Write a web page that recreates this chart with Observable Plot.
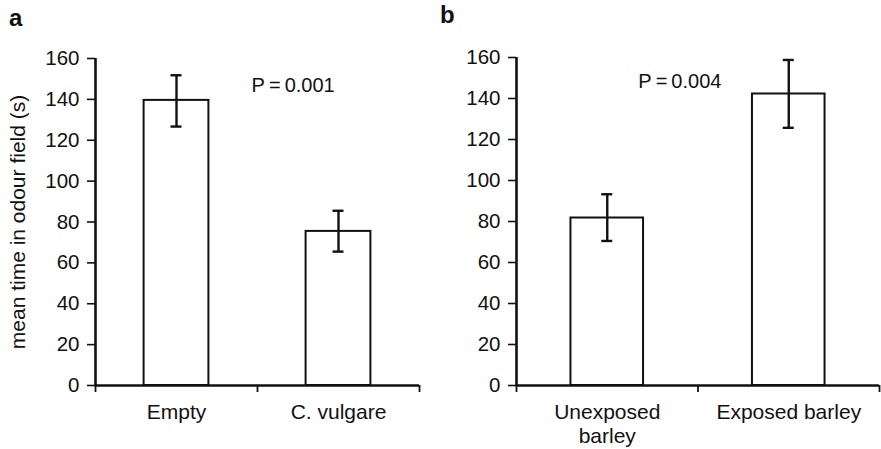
<!DOCTYPE html>
<html>
<head>
<meta charset="utf-8">
<script src="https://cdn.jsdelivr.net/npm/d3@7"></script>
<script src="https://cdn.jsdelivr.net/npm/@observablehq/plot@0.6"></script>
<style>
  html, body { margin: 0; padding: 0; background: #fff; }
  #wrap { position: relative; width: 881px; height: 449px; overflow: hidden; font-family: "Liberation Sans", Arial, sans-serif; }
  .panel { position: absolute; top: 0; }
  .letter { position: absolute; font: bold 24px "Liberation Sans", Arial, sans-serif; color: #111; }
</style>
</head>
<body>
<div id="wrap">
  <div class="panel" id="pa" style="left:0px"></div>
  <div class="panel" id="pb" style="left:440px"></div>
  <div class="letter" style="left:9px; top:4px">a</div>
  <div class="letter" style="left:440px; top:1px">b</div>
</div>
<script>
// Panel a data
const catsA = ["Empty", "C. vulgare"];
const meansA = [139.5, 75.4];
const lowA = [126.7, 65.5];
const highA = [151.8, 85.5];
const pTextA = ["P\u2009=\u20090.001"];
const pPosA = [{x: 1.22, y: 146.5}];

// Panel b data
const catsB = ["Unexposed\nbarley", "Exposed barley"];
const meansB = [81.7, 142.2];
const lowB = [70.5, 125.7];
const highB = [93.3, 158.8];
const pTextB = ["P\u2009=\u20090.004"];
const pPosB = [{x: 0.90, y: 148.4}];

const yTicks = [0, 20, 40, 60, 80, 100, 120, 140, 160];
const yLabel = "mean time in odour field (s)";

function panel({cats, means, low, high, pText, pPos, width, marginLeft, marginRight, marginTop, ylabel}) {
  const data = cats.map((c, i) => ({cat: c, i, mean: means[i], lo: low[i], hi: high[i]}));
  const n = cats.length;
  const ann = pText.map((t, k) => ({t, x: pPos[k].x, y: pPos[k].y}));
  const marks = [
    Plot.rectY(data, {x1: d => d.i + 0.3, x2: d => d.i + 0.7, y1: 0, y2: "mean", fill: "white", stroke: "#111", strokeWidth: 2}),
    Plot.ruleX(data, {x: d => d.i + 0.5, y1: "lo", y2: "hi", stroke: "#111", strokeWidth: 2.4}),
    Plot.ruleY(data, {y: "hi", x1: d => d.i + 0.5, x2: d => d.i + 0.5, insetLeft: -5.5, insetRight: -5.5, stroke: "#111", strokeWidth: 2.4}),
    Plot.ruleY(data, {y: "lo", x1: d => d.i + 0.5, x2: d => d.i + 0.5, insetLeft: -5.5, insetRight: -5.5, stroke: "#111", strokeWidth: 2.4}),
    Plot.axisY({ticks: yTicks, tickSize: 8, tickPadding: 8, label: null, fontSize: 20.5, strokeWidth: 1.6, stroke: "#111", fill: "#111"}),
    Plot.axisX({ticks: d3.range(n + 1), tickFormat: () => "", tickSize: 7, label: null, strokeWidth: 1.8, stroke: "#111"}),
    Plot.ruleX([0], {stroke: "#111", strokeWidth: 2.6}),
    Plot.ruleY([0], {stroke: "#111", strokeWidth: 2.6}),
    Plot.text(data, {x: d => d.i + 0.5, y: 0, text: "cat", dy: 17, lineAnchor: "top", lineHeight: 1.12, fontSize: 21, fill: "#111"}),
    Plot.text(ann, {x: "x", y: "y", text: "t", fontSize: 20, fill: "#111"})
  ];
  if (ylabel) {
    marks.push(Plot.text([ylabel], {frameAnchor: "left", rotate: -90, dx: -77, textAnchor: "middle", lineAnchor: "middle", fontSize: 21, fill: "#111", text: d => d}));
  }
  return Plot.plot({
    width, height: 449,
    marginLeft, marginRight, marginTop, marginBottom: 64,
    style: {fontFamily: "'Liberation Sans', Arial, sans-serif", fontSize: "20px", background: "transparent", color: "#111"},
    x: {domain: [0, n], axis: null},
    y: {domain: [0, 160], axis: null},
    marks
  });
}

document.getElementById("pa").appendChild(panel({
  cats: catsA, means: meansA, low: lowA, high: highA, pText: pTextA, pPos: pPosA,
  width: 440, marginLeft: 95, marginRight: 21, marginTop: 58, ylabel: yLabel
}));
document.getElementById("pb").appendChild(panel({
  cats: catsB, means: meansB, low: lowB, high: highB, pText: pTextB, pPos: pPosB,
  width: 441, marginLeft: 76, marginRight: 2, marginTop: 57, ylabel: null
}));
</script>
</body>
</html>
